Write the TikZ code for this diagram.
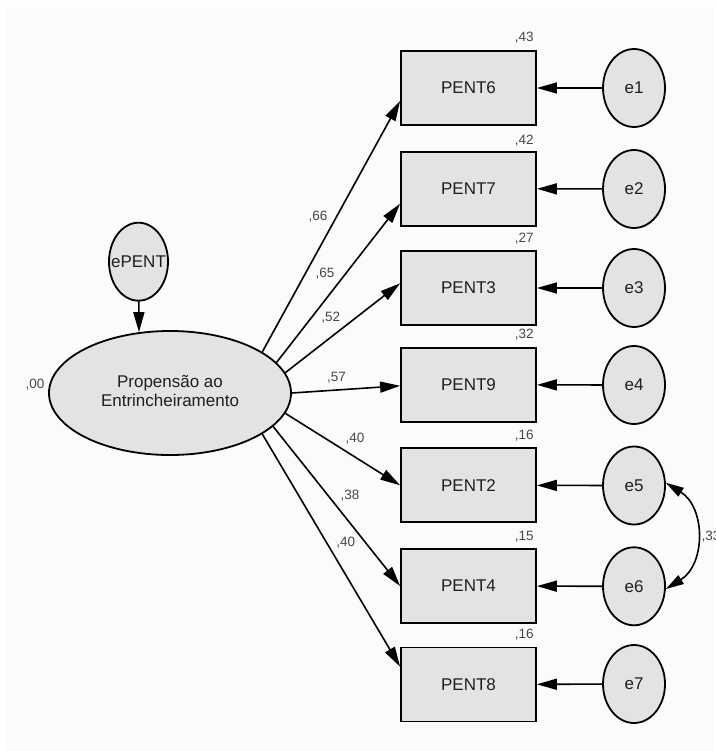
\documentclass[tikz,border=0pt]{standalone}
\usepackage{fontspec}
\setmainfont{Liberation Sans}
\usetikzlibrary{arrows.meta,shapes.geometric}
\begin{document}
\begin{tikzpicture}[x=1pt,y=-1pt,
  every node/.style={font=\fontsize{17}{20}\selectfont, text=black!88},
  obs/.style={draw, line width=1.8pt, fill=black!11, minimum width=135pt, minimum height=74pt, inner sep=0pt},
  lat/.style={draw, ellipse, line width=1.8pt, fill=black!11, inner sep=0pt},
  err/.style={lat, minimum width=62pt, minimum height=78pt},
  load/.style={line width=1.6pt, -{Triangle[length=20pt,width=11pt]}},
  cov/.style={line width=1.6pt, {Triangle[length=18pt,width=10pt]}-{Triangle[length=18pt,width=10pt]}},
  coef/.style={font=\fontsize{13.5}{15}\selectfont, text=black!72, inner sep=0pt}
]
\useasboundingbox (0,0) rectangle (715,751);
\fill[black!1.5] (7,7) rectangle (715,751);

% latent factor and its disturbance
\node[lat, minimum width=242pt, minimum height=124pt] (ov) at (170,393)
  {\makebox[0pt]{\begin{tabular}{@{}c@{}}Propensão ao\\[-1pt]Entrincheiramento\end{tabular}}};
\node[lat, minimum width=59pt, minimum height=78pt] (ep) at (138.5,261.7) {\makebox[0pt]{ePENT}};

% indicators
\node[obs] (p6) at (468.5,88)    {PENT6};
\node[obs] (p7) at (468.5,188.7) {PENT7};
\node[obs] (p3) at (468.5,288)   {PENT3};
\node[obs] (p9) at (468.5,384.8) {PENT9};
\node[obs] (p2) at (468.5,485.3) {PENT2};
\node[obs] (p4) at (468.5,586)   {PENT4};
\node[obs] (p8) at (468.5,684.5) {PENT8};

% measurement errors
\node[err] (e1) at (634,88)    {\makebox[0pt]{e1}};
\node[err] (e2) at (634,189)   {\makebox[0pt]{e2}};
\node[err] (e3) at (634,288)   {\makebox[0pt]{e3}};
\node[err] (e4) at (634,385)   {\makebox[0pt]{e4}};
\node[err] (e5) at (634,485.5) {\makebox[0pt]{e5}};
\node[err] (e6) at (634,586.3) {\makebox[0pt]{e6}};
\node[err] (e7) at (634,684)   {\makebox[0pt]{e7}};

% structural paths
\draw[load] (ep) -- (ov.117.7);
\draw[load] (ov.24.1)  -- ([yshift=-13pt]p6.west);
\draw[load] (ov.16.6)  -- ([yshift=-15pt]p7.west);
\draw[load] (ov.10.3)  -- ([yshift=4.7pt]p3.west);
\draw[load] (ov.0)     -- ([yshift=-1pt]p9.west);
\draw[load] (ov.-10.7) -- (p2.west);
\draw[load] (ov.-18.6) -- (p4.west);
\draw[load] (ov.-24.7) -- ([yshift=17.8pt]p8.west);

\foreach \e/\p in {e1/p6,e2/p7,e3/p3,e4/p9,e5/p2,e6/p4,e7/p8}
  \draw[load] (\e) -- (\p);

% error covariance
\draw[cov] (e5.5) .. controls +(40,25) and +(40,-25) .. (e6.-5);

% estimates
\node[coef] at (35,385) {,00};
\node[coef] at (318,216.7) {,66};
\node[coef] at (325,273.3) {,65};
\node[coef] at (330.8,317.3) {,52};
\node[coef] at (336.5,377.3) {,57};
\node[coef] at (355,439) {,40};
\node[coef] at (350,496) {,38};
\node[coef] at (345.7,542.3) {,40};

\node[coef] at (524.2,38)    {,43};
\node[coef] at (524.2,140.3) {,42};
\node[coef] at (524.2,238.3) {,27};
\node[coef] at (524.2,335)   {,32};
\node[coef] at (524.2,435.7) {,16};
\node[coef] at (524.2,536.7) {,15};
\node[coef] at (524.2,634.7) {,16};

\node[coef, anchor=west] at (701.5,537) {,33};
\end{tikzpicture}
\end{document}
